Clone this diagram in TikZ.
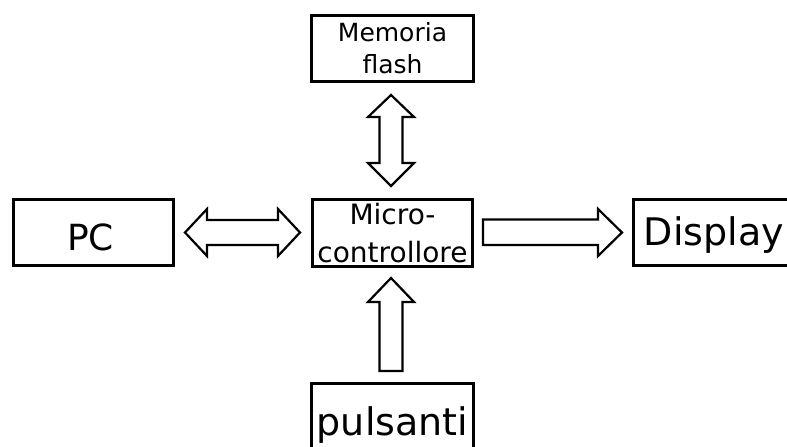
\documentclass[tikz,border=0pt]{standalone}
\usepackage{fontspec}
\setmainfont{DejaVu Sans}
\begin{document}
\begin{tikzpicture}[x=1pt,y=-1pt,
  block/.style={draw=black,line width=3.5pt,fill=white,inner sep=0pt,align=center},
  blockarrow/.style={draw=black,line width=2.2pt,fill=white,line join=miter}]
\useasboundingbox (0,0) rectangle (787,447);
\clip (0,0) rectangle (787,447);

% blocks
\node[block,minimum width=162pt,minimum height=66pt,
  font=\fontsize{25}{32}\selectfont]
  (mem) at (392.5,48.5) {Memoria\\flash};
\node[block,minimum width=160pt,minimum height=67pt,
  font=\fontsize{28}{38}\selectfont]
  (mcu) at (392.5,233) {Micro-\\controllore};
\node[block,minimum width=160pt,minimum height=66pt,text height=39pt,text depth=4pt,
  font=\fontsize{36}{44}\selectfont]
  (pc) at (93.5,232.5) {\hspace*{-6pt}PC};
\node[block,minimum width=161.5pt,minimum height=66pt,text height=29pt,text depth=4pt,
  font=\fontsize{38}{44}\selectfont]
  (disp) at (714,232.5) {Display};
\node[block,minimum width=162pt,minimum height=90pt,text height=20pt,text depth=7pt,
  font=\fontsize{38}{44}\selectfont]
  (btn) at (392.5,428.5) {pulsanti};

% memoria <-> microcontrollore
\draw[blockarrow] (391,95) -- (414,117) -- (402.5,117) -- (402.5,163) -- (414,163)
  -- (391,186) -- (368,163) -- (379.5,163) -- (379.5,117) -- (368,117) -- cycle;
% PC <-> microcontrollore
\draw[blockarrow] (185,232.5) -- (207,209) -- (207,220) -- (278,220) -- (278,209)
  -- (300,232.5) -- (278,256) -- (278,245) -- (207,245) -- (207,256) -- cycle;
% microcontrollore -> display
\draw[blockarrow] (483,219.5) -- (598,219.5) -- (598,209) -- (622,232.5)
  -- (598,256) -- (598,245) -- (483,245) -- cycle;
% pulsanti -> microcontrollore
\draw[blockarrow] (391,278) -- (414,302) -- (402.5,302) -- (402.5,371)
  -- (379.5,371) -- (379.5,302) -- (368,302) -- cycle;
\end{tikzpicture}
\end{document}
